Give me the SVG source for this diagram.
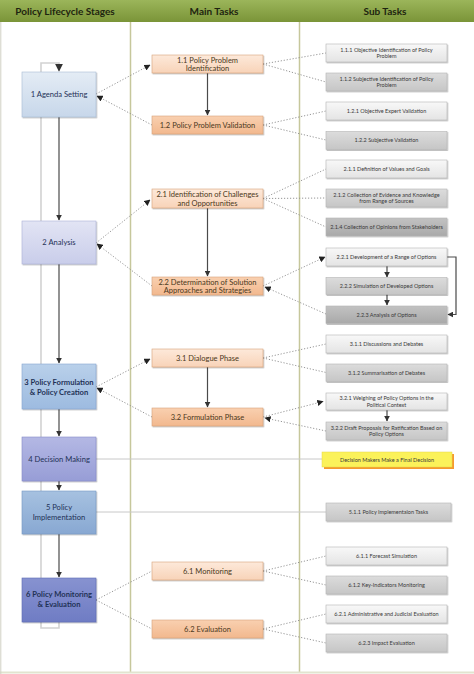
<svg xmlns="http://www.w3.org/2000/svg" width="474" height="674" viewBox="0 0 474 674">
<style>
text{font-family:Lato,"Liberation Sans",sans-serif;text-anchor:middle}
.hd{font-size:10px;font-weight:bold;fill:#1e2410}
.st{font-size:7.6px;fill:#1f3156}
.mt{font-size:7.5px;fill:#4a3820}
.sb{font-size:5.5px;fill:#3a3a3a}
.box{stroke-width:0.6}
.sbox{stroke:#b4b4b4;stroke-width:0.6}
.mbox{stroke:#d8a27a;stroke-width:0.6}
.dot{fill:none;stroke:#8a8a8a;stroke-width:0.9;stroke-dasharray:1.2 1.8}
.solid{fill:none;stroke:#4a4a4a;stroke-width:1.2}
.thin{fill:none;stroke:#c8c8c8;stroke-width:1}
.col{stroke:#c6c79b;stroke-width:1.5}
</style>
<defs>
<linearGradient id="hdr" x1="0" y1="0" x2="0" y2="1"><stop offset="0" stop-color="#9bb55a"/><stop offset="1" stop-color="#7a9438"/></linearGradient>
<linearGradient id="s1" x1="0" y1="0" x2="0" y2="1"><stop offset="0" stop-color="#e4ecf5"/><stop offset="1" stop-color="#c7d7ea"/></linearGradient>
<linearGradient id="s2" x1="0" y1="0" x2="0" y2="1"><stop offset="0" stop-color="#e2e4f4"/><stop offset="1" stop-color="#c9cdea"/></linearGradient>
<linearGradient id="s3" x1="0" y1="0" x2="0" y2="1"><stop offset="0" stop-color="#b9d0ea"/><stop offset="1" stop-color="#9dbbe0"/></linearGradient>
<linearGradient id="s4" x1="0" y1="0" x2="0" y2="1"><stop offset="0" stop-color="#b4b8e4"/><stop offset="1" stop-color="#979dd6"/></linearGradient>
<linearGradient id="s5" x1="0" y1="0" x2="0" y2="1"><stop offset="0" stop-color="#a6c1e0"/><stop offset="1" stop-color="#88a8d2"/></linearGradient>
<linearGradient id="s6" x1="0" y1="0" x2="0" y2="1"><stop offset="0" stop-color="#8792d0"/><stop offset="1" stop-color="#6f7cc4"/></linearGradient>
<linearGradient id="mL" x1="0" y1="0" x2="0" y2="1"><stop offset="0" stop-color="#fde9da"/><stop offset="1" stop-color="#f8d3b8"/></linearGradient>
<linearGradient id="mD" x1="0" y1="0" x2="0" y2="1"><stop offset="0" stop-color="#f9d0b0"/><stop offset="1" stop-color="#f2b88e"/></linearGradient>
<linearGradient id="gL" x1="0" y1="0" x2="0" y2="1"><stop offset="0" stop-color="#f8f8f8"/><stop offset="1" stop-color="#e4e4e4"/></linearGradient>
<linearGradient id="gM" x1="0" y1="0" x2="0" y2="1"><stop offset="0" stop-color="#dcdcdc"/><stop offset="1" stop-color="#c6c6c6"/></linearGradient>
<linearGradient id="gD" x1="0" y1="0" x2="0" y2="1"><stop offset="0" stop-color="#c2c2c2"/><stop offset="1" stop-color="#a9a9a9"/></linearGradient>
<filter id="sh" x="-10%" y="-10%" width="130%" height="150%"><feDropShadow dx="0.8" dy="1" stdDeviation="0.6" flood-color="#000" flood-opacity="0.3"/></filter>
<marker id="ar" viewBox="0 0 10 10" refX="9" refY="5" markerWidth="5" markerHeight="5" orient="auto"><path d="M0,0 L10,5 L0,10 z" fill="#333"/></marker>
<marker id="ad" viewBox="0 0 10 10" refX="9" refY="5" markerWidth="7" markerHeight="7" orient="auto"><path d="M0,0 L10,5 L0,10 z" fill="#222"/></marker>
</defs>
<rect x="0" y="0" width="474" height="674" fill="#ffffff"/>
<g id="header">
<rect x="0" y="0" width="474" height="22" fill="url(#hdr)"/>
<text class="hd" x="65" y="15">Policy Lifecycle Stages</text>
<text class="hd" x="214" y="15">Main Tasks</text>
<text class="hd" x="385" y="15">Sub Tasks</text>
</g>
<g id="frame">
<line class="col" x1="130.5" y1="22" x2="130.5" y2="672"/>
<line class="col" x1="299.5" y1="22" x2="299.5" y2="672"/>
<line x1="0" y1="672.5" x2="474" y2="672.5" stroke="#e2e4cf" stroke-width="2"/>
<line x1="0.8" y1="22" x2="0.8" y2="674" stroke="#d0d0c4" stroke-width="1"/>
</g>
<g id="connectors">
<path d="M59,622 V628 H41 V63 H59 V71" fill="none" stroke="#d2d2d2" stroke-width="1.6" marker-end="url(#ar)"/>
<path class="solid" d="M59,117 V220" marker-end="url(#ar)"/>
<path class="solid" d="M59,264 V363" marker-end="url(#ar)"/>
<path class="solid" d="M59,409 V436" marker-end="url(#ar)"/>
<path class="solid" d="M59,481 V490" marker-end="url(#ar)"/>
<path class="solid" d="M59,534 V577" marker-end="url(#ar)"/>
<path class="solid" d="M207.5,73 V115" marker-end="url(#ar)"/>
<path class="solid" d="M207.5,208 V276" marker-end="url(#ar)"/>
<path class="solid" d="M207.5,367 V407" marker-end="url(#ar)"/>
<path class="solid" d="M387,266 V277" marker-end="url(#ar)"/>
<path class="solid" d="M387,294 V305" marker-end="url(#ar)"/>
<path class="solid" d="M387,410 V421" marker-end="url(#ar)"/>
<path class="solid" d="M447,257 H456 V314.5 H448" marker-end="url(#ar)"/>
<path class="dot" d="M96,94 L150,65" marker-end="url(#ad)"/>
<path class="dot" d="M152,125 L97,96" marker-end="url(#ad)"/>
<path class="dot" d="M96,243 L150,200" marker-end="url(#ad)"/>
<path class="dot" d="M152,286 L97,244" marker-end="url(#ad)"/>
<path class="dot" d="M96,387 L150,359" marker-end="url(#ad)"/>
<path class="dot" d="M152,417 L97,388" marker-end="url(#ad)"/>
<path class="dot" d="M96,600 L152,571"/>
<path class="dot" d="M96,600 L152,629"/>
<path class="dot" d="M263,64 L326,53"/>
<path class="dot" d="M263,64 L326,82"/>
<path class="dot" d="M263,125 L326,111"/>
<path class="dot" d="M263,125 L326,140"/>
<path class="dot" d="M263,198.5 L326,169"/>
<path class="dot" d="M263,198.5 L326,198"/>
<path class="dot" d="M263,198.5 L326,227"/>
<path class="dot" d="M263,286 L325,257" marker-end="url(#ad)"/>
<path class="dot" d="M326,314 L265,287" marker-end="url(#ad)"/>
<path class="dot" d="M263,358 L326,344"/>
<path class="dot" d="M263,358 L326,372.5"/>
<path class="dot" d="M263,417 L323,401.5" marker-end="url(#ad)"/>
<path class="dot" d="M326,431 L265,418" marker-end="url(#ad)"/>
<path class="dot" d="M263,571 L326,556"/>
<path class="dot" d="M263,571 L326,585"/>
<path class="dot" d="M263,629 L326,614"/>
<path class="dot" d="M263,629 L326,643"/>
<path class="thin" d="M96,459 H322"/>
<path class="thin" d="M96,512 H326"/>
</g>
<g id="stage1"><rect class="box" x="22" y="72" width="74" height="45" fill="url(#s1)" stroke="#a9bcd4" filter="url(#sh)"/><text class="st" x="59" y="97">1 Agenda Setting</text></g>
<g id="stage2"><rect class="box" x="22" y="221" width="74" height="43" fill="url(#s2)" stroke="#acb1d8" filter="url(#sh)"/><text class="st" x="59" y="245">2 Analysis</text></g>
<g id="stage3"><rect class="box" x="22" y="364" width="74" height="45" fill="url(#s3)" stroke="#86a6cf" filter="url(#sh)"/><text class="st" x="59" y="385" font-weight="bold">3 Policy Formulation</text><text class="st" x="59" y="395" font-weight="bold">&amp; Policy Creation</text></g>
<g id="stage4"><rect class="box" x="22" y="437" width="74" height="44" fill="url(#s4)" stroke="#858bc8" filter="url(#sh)"/><text class="st" x="59" y="462">4 Decision Making</text></g>
<g id="stage5"><rect class="box" x="22" y="491" width="74" height="43" fill="url(#s5)" stroke="#7698c4" filter="url(#sh)"/><text class="st" x="59" y="510">5 Policy</text><text class="st" x="59" y="520">Implementation</text></g>
<g id="stage6"><rect class="box" x="22" y="578" width="74" height="44" fill="url(#s6)" stroke="#5f6cb4" filter="url(#sh)"/><text class="st" x="59" y="597" font-weight="bold">6 Policy Monitoring</text><text class="st" x="59" y="607" font-weight="bold">&amp; Evaluation</text></g>
<g id="task1-1"><rect class="mbox" x="152" y="55" width="111" height="18" fill="url(#mL)" filter="url(#sh)"/><text class="mt" x="207.5" y="63">1.1 Policy Problem</text><text class="mt" x="207.5" y="71">Identification</text></g>
<g id="task1-2"><rect class="mbox" x="152" y="116" width="111" height="18" fill="url(#mD)" filter="url(#sh)"/><text class="mt" x="207.5" y="127.5">1.2 Policy Problem Validation</text></g>
<g id="task2-1"><rect class="mbox" x="152" y="189" width="111" height="19" fill="url(#mL)" filter="url(#sh)"/><text class="mt" x="207.5" y="197">2.1 Identification of Challenges</text><text class="mt" x="207.5" y="205.5">and Opportunities</text></g>
<g id="task2-2"><rect class="mbox" x="152" y="277" width="111" height="18" fill="url(#mD)" filter="url(#sh)"/><text class="mt" x="207.5" y="285">2.2 Determination of Solution</text><text class="mt" x="207.5" y="293">Approaches and Strategies</text></g>
<g id="task3-1"><rect class="mbox" x="152" y="349" width="111" height="18" fill="url(#mL)" filter="url(#sh)"/><text class="mt" x="207.5" y="360.5">3.1 Dialogue Phase</text></g>
<g id="task3-2"><rect class="mbox" x="152" y="408" width="111" height="18" fill="url(#mD)" filter="url(#sh)"/><text class="mt" x="207.5" y="419.5">3.2 Formulation Phase</text></g>
<g id="task6-1"><rect class="mbox" x="152" y="562" width="111" height="18" fill="url(#mL)" filter="url(#sh)"/><text class="mt" x="207.5" y="573.5">6.1 Monitoring</text></g>
<g id="task6-2"><rect class="mbox" x="152" y="620" width="111" height="18" fill="url(#mD)" filter="url(#sh)"/><text class="mt" x="207.5" y="631.5">6.2 Evaluation</text></g>
<g id="sub1-1-1"><rect class="sbox" x="326" y="44" width="121" height="18" fill="url(#gL)" filter="url(#sh)"/><text class="sb" x="386.5" y="51.5">1.1.1 Objective Identification of Policy</text><text class="sb" x="386.5" y="58.3">Problem</text></g>
<g id="sub1-1-2"><rect class="sbox" x="326" y="73" width="121" height="18" fill="url(#gM)" filter="url(#sh)"/><text class="sb" x="386.5" y="80.5">1.1.2 Subjective Identification of Policy</text><text class="sb" x="386.5" y="87.3">Problem</text></g>
<g id="sub1-2-1"><rect class="sbox" x="326" y="102" width="121" height="18" fill="url(#gL)" filter="url(#sh)"/><text class="sb" x="386.5" y="112.9">1.2.1 Objective Expert Validation</text></g>
<g id="sub1-2-2"><rect class="sbox" x="326" y="131.5" width="121" height="18" fill="url(#gM)" filter="url(#sh)"/><text class="sb" x="386.5" y="142.4">1.2.2 Subjective Validation</text></g>
<g id="sub2-1-1"><rect class="sbox" x="326" y="160" width="121" height="18" fill="url(#gL)" filter="url(#sh)"/><text class="sb" x="386.5" y="170.9">2.1.1 Definition of Values and Goals</text></g>
<g id="sub2-1-2"><rect class="sbox" x="326" y="189" width="121" height="18" fill="url(#gM)" filter="url(#sh)"/><text class="sb" x="386.5" y="196.5">2.1.2 Collection of Evidence and Knowledge</text><text class="sb" x="386.5" y="203.3">from Range of Sources</text></g>
<g id="sub2-1-4"><rect class="sbox" x="326" y="218" width="121" height="18" fill="url(#gD)" filter="url(#sh)"/><text class="sb" x="386.5" y="228.9">2.1.4 Collection of Opinions from Stakeholders</text></g>
<g id="sub2-2-1"><rect class="sbox" x="326" y="248" width="121" height="18" fill="url(#gL)" filter="url(#sh)"/><text class="sb" x="386.5" y="258.9">2.2.1 Development of a Range of Options</text></g>
<g id="sub2-2-2"><rect class="sbox" x="326" y="277.5" width="121" height="17" fill="url(#gM)" filter="url(#sh)"/><text class="sb" x="386.5" y="287.9">2.2.2 Simulation of Developed Options</text></g>
<g id="sub2-2-3"><rect class="sbox" x="326" y="306" width="121" height="17.5" fill="url(#gD)" filter="url(#sh)"/><text class="sb" x="386.5" y="316.7">2.2.3 Analysis of Options</text></g>
<g id="sub3-1-1"><rect class="sbox" x="326" y="335" width="121" height="18" fill="url(#gL)" filter="url(#sh)"/><text class="sb" x="386.5" y="345.9">3.1.1 Discussions and Debates</text></g>
<g id="sub3-1-2"><rect class="sbox" x="326" y="364" width="121" height="17.5" fill="url(#gM)" filter="url(#sh)"/><text class="sb" x="386.5" y="374.7">3.1.2 Summarisation of Debates</text></g>
<g id="sub3-2-1"><rect class="sbox" x="326" y="393" width="121" height="17" fill="url(#gL)" filter="url(#sh)"/><text class="sb" x="386.5" y="400">3.2.1 Weighing of Policy Options in the</text><text class="sb" x="386.5" y="406.8">Political Context</text></g>
<g id="sub3-2-2"><rect class="sbox" x="326" y="422" width="121" height="18" fill="url(#gM)" filter="url(#sh)"/><text class="sb" x="386.5" y="429.5">3.2.2 Draft Proposals for Ratification Based on</text><text class="sb" x="386.5" y="436.3">Policy Options</text></g>
<g id="decision"><rect x="324" y="454" width="130" height="15" fill="#f59a2e"/><rect x="322" y="452" width="130" height="15" fill="#fbf25a" stroke="#e6d84a" stroke-width="0.5"/><text class="sb" x="387" y="461.7">Decision Makers Make a Final Decision</text></g>
<g id="sub5-1-1"><rect class="sbox" x="326" y="503" width="125" height="18" fill="url(#gM)" filter="url(#sh)"/><text class="sb" x="388.5" y="513.9">5.1.1 Policy Implementaion Tasks</text></g>
<g id="sub6-1-1"><rect class="sbox" x="326" y="547" width="121" height="18" fill="url(#gL)" filter="url(#sh)"/><text class="sb" x="386.5" y="557.9">6.1.1 Forecast Simulation</text></g>
<g id="sub6-1-2"><rect class="sbox" x="326" y="576" width="121" height="18" fill="url(#gM)" filter="url(#sh)"/><text class="sb" x="386.5" y="586.9">6.1.2 Key-Indicators Monitoring</text></g>
<g id="sub6-2-1"><rect class="sbox" x="326" y="605" width="121" height="18" fill="url(#gL)" filter="url(#sh)"/><text class="sb" x="386.5" y="615.9">6.2.1 Administrative and Judicial Evaluation</text></g>
<g id="sub6-2-3"><rect class="sbox" x="326" y="634" width="121" height="18" fill="url(#gM)" filter="url(#sh)"/><text class="sb" x="386.5" y="644.9">6.2.3 Impact Evaluation</text></g>
</svg>
